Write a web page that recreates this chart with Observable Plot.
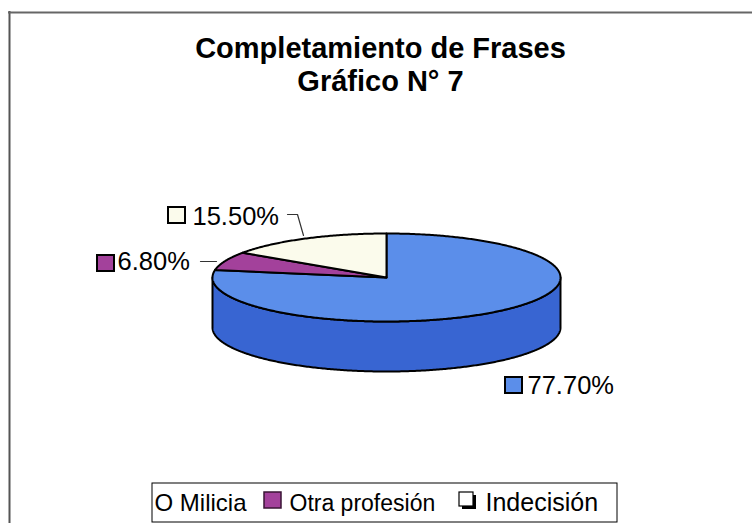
<!DOCTYPE html>
<html><head><meta charset="utf-8">
<script src="https://cdn.jsdelivr.net/npm/d3@7"></script>
<script src="https://cdn.jsdelivr.net/npm/@observablehq/plot@0.6"></script>
<style>body{margin:0;background:#fff;} svg{display:block;}</style>
</head><body><div id="chart"></div>
<script>
const categories = ["Milicia", "Otra profesión", "Indecisión"];
const values = [77.7, 6.8, 15.5];
const sliceLabels = ["77.70%", "6.80%", "15.50%"];
const legendLabels = ["O Milicia", "Otra profesión", "Indecisión"];
const titleLines = ["Completamiento de Frases", "Gráfico N° 7"];

const W = 752, H = 523;
const topColors = ["#5b8eea", "#a3419b", "#fbfbec"];
const sideColors = ["#3865d2", "#7a2a72", "#d8d8c4"];
const cx = 386, cy = 277, rx = 174, ry = 44, depth = 50;
const FONT = "Liberation Sans, Arial, sans-serif";

const arcs = d3.pie().sort(null).startAngle(0).endAngle(2 * Math.PI)(values);
const P = a => [cx + rx * Math.sin(a), cy - ry * Math.cos(a)];

const topPolys = arcs.map((a, i) => {
  const n = Math.max(2, Math.ceil((a.endAngle - a.startAngle) / 0.01));
  const pts = [{x: cx, y: cy}];
  for (let k = 0; k <= n; k++) {
    const t = a.startAngle + (a.endAngle - a.startAngle) * k / n;
    const [x, y] = P(t); pts.push({x, y});
  }
  return pts;
});
const sidePolys = arcs.map((a, i) => {
  const s = Math.max(a.startAngle, Math.PI / 2), e = Math.min(a.endAngle, 3 * Math.PI / 2);
  if (e <= s) return [];
  const n = Math.ceil((e - s) / 0.01);
  const up = [], down = [];
  for (let k = 0; k <= n; k++) {
    const t = s + (e - s) * k / n; const [x, y] = P(t);
    up.push({x, y}); down.push({x, y: y + depth});
  }
  return [...up, ...down.reverse()];
});

const marks = [];
// frame
marks.push(Plot.ruleX([9], {y1: 11, y2: H, stroke: "#555", strokeWidth: 2}));
marks.push(Plot.ruleY([12], {x1: 8, x2: W, stroke: "#666", strokeWidth: 2}));
// title
marks.push(Plot.text(titleLines, {x: 380, y: (d, i) => 57 + i * 33, text: d => d, fontSize: 29, fontWeight: "bold", lineAnchor: "bottom", fill: "#000"}));
// pie side
sidePolys.forEach((pts, i) => {
  if (pts.length) marks.push(Plot.line(pts, {x: "x", y: "y", curve: "linear-closed", fill: sideColors[i], stroke: "#000", strokeWidth: 2, strokeLinejoin: "round"}));
});
// pie top
topPolys.forEach((pts, i) => {
  marks.push(Plot.line(pts, {x: "x", y: "y", curve: "linear-closed", fill: topColors[i], stroke: "#000", strokeWidth: 2, strokeLinejoin: "round"}));
});
// slice labels
const labelPos = [
  {sx: 505, sy: 377, tx: 527, ty: 393, leader: null},
  {sx: 97, sy: 255, tx: 117, ty: 269, leader: [[200, 261], [216, 261]]},
  {sx: 168, sy: 207, tx: 192, ty: 224, leader: [[287, 214], [297, 214], [303, 235]]}
];
labelPos.forEach((p, i) => {
  marks.push(Plot.rect([sliceLabels[i]], {x1: p.sx, x2: p.sx + 17, y1: p.sy, y2: p.sy + 16, fill: topColors[i], stroke: "#000", strokeWidth: 2}));
  marks.push(Plot.text([sliceLabels[i]], {x: p.tx, y: p.ty, text: d => d, textAnchor: "start", lineAnchor: "bottom", fontSize: 25.5, fill: "#000"}));
  if (p.leader) marks.push(Plot.line(p.leader.map(([x, y]) => ({x, y})), {x: "x", y: "y", stroke: "#333", strokeWidth: 1.2}));
});
// legend
marks.push(Plot.rect([0], {x1: 152, x2: 617, y1: 483, y2: 522, fill: "none", stroke: "#000", strokeWidth: 1}));
marks.push(Plot.text([legendLabels[0]], {x: 154, y: 510, text: d => d, textAnchor: "start", lineAnchor: "bottom", fontSize: 24, fill: "#000"}));
marks.push(Plot.rect([legendLabels[1]], {x1: 264, x2: 281, y1: 492, y2: 508, fill: topColors[1], stroke: "#3a1535", strokeWidth: 1.5}));
marks.push(Plot.text([legendLabels[1]], {x: 289, y: 510, text: d => d, textAnchor: "start", lineAnchor: "bottom", fontSize: 23, fill: "#000"}));
marks.push(Plot.rect([legendLabels[2]], {x1: 462, x2: 476, y1: 495, y2: 509, fill: "#000"}));
marks.push(Plot.rect([legendLabels[2]], {x1: 459, x2: 473, y1: 492, y2: 506, fill: "#fff", stroke: "#000", strokeWidth: 1.2}));
marks.push(Plot.text([legendLabels[2]], {x: 485, y: 510, text: d => d, textAnchor: "start", lineAnchor: "bottom", fontSize: 25, fill: "#000"}));

const chart = Plot.plot({
  width: W, height: H,
  margin: 0,
  x: {domain: [0, W], range: [0, W], axis: null},
  y: {domain: [0, H], range: [0, H], axis: null},
  style: {fontFamily: FONT, background: "#fff", overflow: "visible"},
  marks
});
document.getElementById("chart").appendChild(chart);
</script>
</body></html>
